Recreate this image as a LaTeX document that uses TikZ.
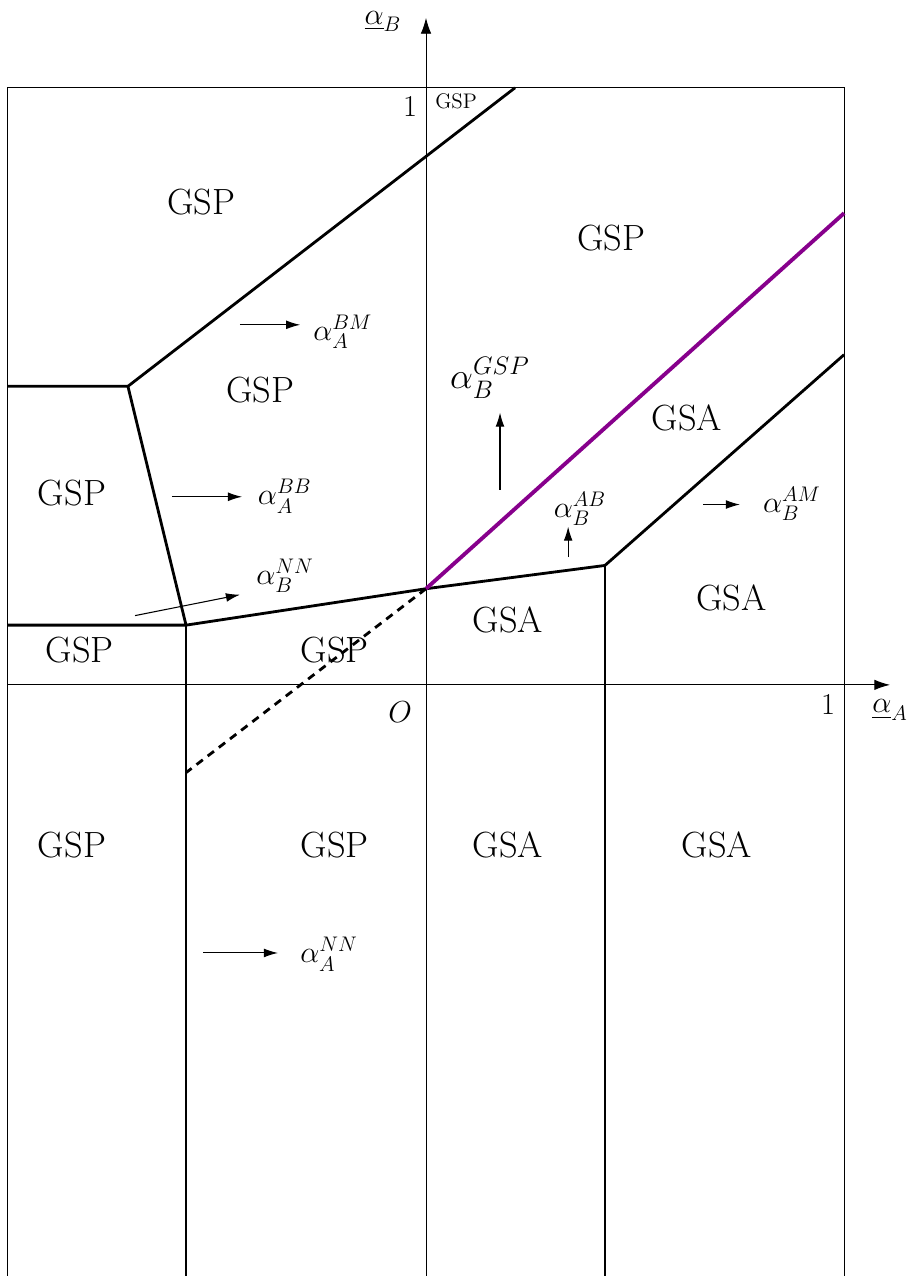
\documentclass[tikz,border=0pt]{standalone}
\usepackage{amsmath,amssymb}
\usepackage{xcolor}
\usetikzlibrary{arrows.meta,positioning}
\definecolor{gsppurple}{RGB}{135,0,140}

\begin{document}
\begin{tikzpicture}[
  x=8.36cm, y=11.94cm,
  bound/.style={line width=1.6pt},
  frame/.style={line width=0.6pt},
  axis/.style={line width=0.6pt, -{Latex[length=9pt,width=6pt]}},
  arr/.style={line width=0.6pt, -{Latex[length=8pt,width=5pt]}},
  region/.style={font=\huge, inner sep=0pt},
  lab/.style={font=\LARGE, inner sep=1pt},
  tick/.style={font=\LARGE, inner sep=1pt},
  node distance=0.25cm
]
\useasboundingbox (-1.019,-0.990) rectangle (1.160,1.147);

% frame and axes
\draw[frame] (-1,-1) rectangle (1,1);
\coordinate (xstart) at (-1,0);
\coordinate (xend) at (1.11,0);
\coordinate (ystart) at (0,-1);
\coordinate (yend) at (0,1.117);
\draw[axis] (xstart) -- (xend);
\draw[axis, line width=0.5pt] (ystart) -- (yend);
\node[tick] (xlab) at (1.110,-0.042) {$\underline{\alpha}_A$};
\node[tick] (ylab) at (-0.103,1.111) {$\underline{\alpha}_B$};
\node[tick] (xone) at (0.962,-0.034) {$1$};
\node[tick] (yone) at (-0.038,0.968) {$1$};
\node[tick] (orig) at (-0.062,-0.045) {$O$};

% boundary corners
\coordinate (ltop) at (-1,0.5);
\coordinate (lknee) at (-0.713,0.5);
\coordinate (topcut) at (0.213,1);
\coordinate (lbot) at (-1,0.1);
\coordinate (lfoot) at (-0.574,0.1);
\coordinate (mid) at (0,0.161);
\coordinate (rknee) at (0.428,0.2);
\coordinate (redge) at (1,0.553);
\coordinate (pedge) at (1,0.79);
\coordinate (dashend) at (-0.574,-0.147);
\coordinate (lfloor) at (-0.574,-1);
\coordinate (rfloor) at (0.428,-1);

\draw[bound] (ltop) -- (lknee) -- (topcut);
\draw[bound] (lknee) -- (lfoot);
\draw[bound] (lbot) -- (lfoot) -- (mid) -- (rknee) -- (redge);
\draw[bound] (lfoot) -- (lfloor);
\draw[bound] (rknee) -- (rfloor);
\draw[bound, dash pattern=on 4.5pt off 3.5pt] (mid) -- (dashend);
\draw[line width=2.2pt, gsppurple] (mid) -- (pedge);

% regions
\node[region] (r1) at (-0.538,0.809) {GSP};
\node[region] (r2) at (0.443,0.749) {GSP};
\node[region] (r3) at (-0.397,0.494) {GSP};
\node[region] (r4) at (0.624,0.447) {GSA};
\node[region] (r5) at (-0.847,0.322) {GSP};
\node[region] (r6) at (0.730,0.146) {GSA};
\node[region] (r7) at (0.196,0.109) {GSA};
\node[region] (r8) at (-0.828,0.059) {GSP};
\node[region] (r9) at (-0.218,0.059) {GSP};
\node[region] (r10) at (-0.847,-0.268) {GSP};
\node[region] (r11) at (-0.218,-0.268) {GSP};
\node[region] (r12) at (0.196,-0.268) {GSA};
\node[region] (r13) at (0.696,-0.268) {GSA};
\node[font=\large, inner sep=0pt] (rtop) at (0.072,0.978) {GSP};

% moving thresholds
\coordinate (bmS) at (-0.445,0.603);
\coordinate (bmE) at (-0.301,0.603);
\draw[arr] (bmS) -- (bmE);
\node[lab] (bm) at (-0.199,0.591) {$\alpha_A^{BM}$};

\coordinate (bbS) at (-0.608,0.315);
\coordinate (bbE) at (-0.440,0.315);
\draw[arr] (bbS) -- (bbE);
\node[lab] (bb) at (-0.338,0.316) {$\alpha_A^{BB}$};

\coordinate (nnbS) at (-0.696,0.116);
\coordinate (nnbE) at (-0.445,0.151);
\draw[arr] (nnbS) -- (nnbE);
\node[lab] (nnb) at (-0.337,0.183) {$\alpha_B^{NN}$};

\coordinate (gspS) at (0.177,0.327);
\coordinate (gspE) at (0.177,0.456);
\draw[arr] (gspS) -- (gspE);
\node[lab, font=\fontsize{22.6}{27}\selectfont] (gsp) at (0.153,0.514) {$\alpha_B^{GSP}$};

\coordinate (abS) at (0.340,0.214);
\coordinate (abE) at (0.340,0.265);
\draw[arr] (abS) -- (abE);
\node[lab] (ab) at (0.368,0.295) {$\alpha_B^{AB}$};

\coordinate (amS) at (0.663,0.302);
\coordinate (amE) at (0.751,0.302);
\draw[arr] (amS) -- (amE);
\node[lab] (am) at (0.875,0.303) {$\alpha_B^{AM}$};

\coordinate (nnaS) at (-0.533,-0.449);
\coordinate (nnaE) at (-0.354,-0.449);
\draw[arr] (nnaS) -- (nnaE);
\node[lab] (nna) at (-0.232,-0.451) {$\alpha_A^{NN}$};
\end{tikzpicture}
\end{document}
